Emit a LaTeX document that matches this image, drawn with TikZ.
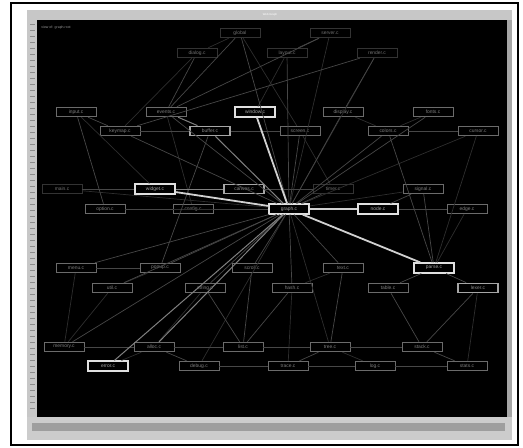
\documentclass[tikz,border=0pt]{standalone}
\usepackage{fontspec}
\setmainfont{Liberation Sans}
\begin{document}
\begin{tikzpicture}[x=0.5mm, y=-0.5mm,
    box/.style={rectangle, draw=black!58, line width=0.45mm, fill=black, text=black!50, font=\fontsize{7}{8}\selectfont, minimum width=20mm, minimum height=4.8mm, inner sep=1pt},
    hot/.style={box, draw=white!88!black, line width=0.75mm, text=black!35},
    warm/.style={box, draw=black!35, line width=0.6mm, text=black!45},
    faint/.style={box, draw=black!80, text=black!55},
    link/.style={black!72, line width=0.35mm},
    farlink/.style={black!82, line width=0.35mm},
    midlink/.style={black!50, line width=0.5mm},
    hotlink/.style={white!82!black, line width=0.9mm}]

    % window and frame
    \useasboundingbox (0,0) rectangle (523,448);
    \fill[white] (0,0) rectangle (523,448);
    \draw[line width=1mm] (11,3) rectangle (518,445);
    \fill[black!30] (27,10) rectangle (512,440);
    \fill[black!22] (27,10) rectangle (512,20);
    \node[text=white, font=\fontsize{4}{5}\selectfont] (title) at (270,15) {Web Graph};
    \fill[black] (37,20) rectangle (507,417);
    \fill[black!22] (27,20) rectangle (37,417);
    \foreach \t in {24,30,...,412} \draw[black!45, line width=0.3mm] (30,\t) -- (35,\t);
    \fill[black!35] (507,20) rectangle (512,417);
    \fill[black!20] (27,417) rectangle (512,440);
    \fill[black!38] (32,423) rectangle (505,431);
    \node[anchor=west, text=black!40, font=\fontsize{5}{6}\selectfont] (info) at (39,28) {view of: graph.root};

    % nodes
    \node[faint] (a1) at (240,33) {global};
    \node[faint] (a2) at (330,33) {server.c};
    \node[faint] (b1) at (197,53) {dialog.c};
    \node[faint] (b2) at (287,53) {layout.c};
    \node[faint] (b3) at (377,53) {render.c};

    \node[box] (c1) at (76,112) {input.c};
    \node[box] (c2) at (166,112) {events.c};
    \node[hot] (c3) at (255,112) {window.c};
    \node[box] (c4) at (343,112) {display.c};
    \node[box] (c5) at (433,112) {fonts.c};

    \node[box] (d1) at (120,131) {keymap.c};
    \node[warm] (d2) at (210,131) {buffer.c};
    \node[box] (d3) at (300,131) {screen.c};
    \node[box] (d4) at (388,131) {colors.c};
    \node[box] (d5) at (478,131) {cursor.c};

    \node[faint] (e1) at (62,189) {main.c};
    \node[hot] (e2) at (155,189) {widget.c};
    \node[warm] (e3) at (244,189) {canvas.c};
    \node[faint] (e4) at (333,189) {timer.c};
    \node[box] (e5) at (423,189) {signal.c};

    \node[box] (f1) at (105,209) {option.c};
    \node[box] (f2) at (193,209) {config.c};
    \node[hot] (f3) at (289,209) {graph.c};
    \node[hot] (f4) at (378,209) {node.c};
    \node[box] (f5) at (467,209) {edge.c};

    \node[box] (g1) at (76,268) {menu.c};
    \node[box] (g2) at (160,268) {popup.c};
    \node[box] (g3) at (252,268) {scroll.c};
    \node[box] (g4) at (343,268) {text.c};
    \node[hot] (g5) at (434,268) {parse.c};

    \node[box] (h1) at (112,288) {util.c};
    \node[box] (h2) at (205,288) {string.c};
    \node[box] (h3) at (292,288) {hash.c};
    \node[box] (h4) at (388,288) {table.c};
    \node[warm] (h5) at (478,288) {lexer.c};

    \node[box] (i1) at (64,347) {memory.c};
    \node[box] (i2) at (154,347) {alloc.c};
    \node[box] (i3) at (243,347) {list.c};
    \node[box] (i4) at (330,347) {tree.c};
    \node[box] (i5) at (422,347) {stack.c};

    \node[hot] (j1) at (108,366) {error.c};
    \node[box] (j2) at (199,366) {debug.c};
    \node[box] (j3) at (288,366) {trace.c};
    \node[box] (j4) at (375,366) {log.c};
    \node[box] (j5) at (467,366) {stats.c};

    % links
    \foreach \u/\v in {a1/b1, a1/d3, b2/c3, b1/d1, c4/d4, c5/d4, d5/f3, e1/f3,
        f1/f3, e5/f3, f5/g5, g2/h1, h1/i1, g1/i1, i2/h2, j1/i2, j3/h3, h3/g4,
        j4/i4, j5/h5, c2/f2, d3/e4, c1/e2, d5/g5, b3/f3, j2/f3, i4/f3, a2/f3}
        \draw[farlink] (\u) -- (\v);
    \foreach \u/\v in {a1/c2, a1/f3, a2/c2, a2/b2, b1/c2, b2/f3, b3/d1, b3/c4,
        c1/d1, c2/f3, c4/f3, c5/f3, d1/f3, d1/d2, d3/f3, d4/f3, d4/d5, d2/d3,
        e1/e2, e3/e4, e4/f3, e5/g5, e5/f4, f1/f2, f2/f3, f4/f5, g1/f3, g1/g2,
        g3/f3, g4/f3, g2/f3, h2/f3, h3/f3, h4/g5, h1/f3, d4/g5,
        i1/i2, i2/i3, i3/i4, i4/i5, i1/f3, j2/j3, j3/j4, j4/j5, i5/j5, i5/h5,
        g5/h5, h4/i5, h2/i3, g3/i3, g4/i4, j3/i4, i3/h3, d2/g2, c1/f1, j2/i2}
        \draw[link] (\u) -- (\v);
    \foreach \u/\v in {j1/f3, i2/f3, d2/f3, e2/e3, c2/d2}
        \draw[midlink] (\u) -- (\v);
    \foreach \u/\v in {c3/f3, e2/f3, f3/f4, f3/g5}
        \draw[hotlink] (\u) -- (\v);
\end{tikzpicture}
\end{document}
